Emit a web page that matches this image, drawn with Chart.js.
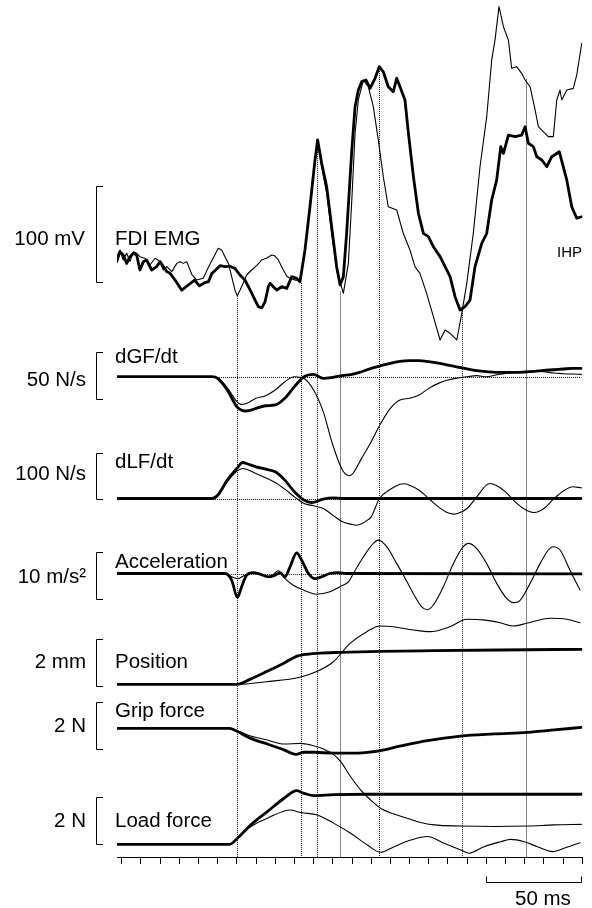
<!DOCTYPE html>
<html><head><meta charset="utf-8">
<script src="https://cdn.jsdelivr.net/npm/chart.js@4.4.1/dist/chart.umd.min.js"></script>
<style>html,body{margin:0;padding:0;background:#fff;}canvas{display:block;}</style>
</head><body>
<canvas id="c" width="592" height="908"></canvas>
<script>
// ---------------- DATA (time in ms, values in physical units, relative to pre-movement baseline) ----------------
const timeTicks = [0,10,20,30,40,50,60,70,80,90,100,110,120,130,140,150,160,170,180,190,200,210,220,230,240];

// FDI EMG (mV, relative to scale bar foot)
const emgThickT = [-2.6,-0.9,0.8,2.6,4.3,6.1,7.8,9.5,11.3,13.0,15.6,18.2,20.0,21.7,23.5,25.2,27.8,31.3,34.7,38.0,40.5,43.0,45.2,47.0,49.0,51.2,53.8,56.4,59.0,61.6,64.2,66.9,69.5,71.2,73.0,74.7,76.4,77.3,79.0,80.8,83.4,86.0,88.6,91.2,92.9,95.5,98.1,100.7,102.1,104.2,106.8,109.4,112.0,113.8,115.5,117.2,119.9,121.6,123.3,125.1,127.3,129.4,132.0,134.2,136.3,138.9,141.5,143.3,145.0,147.6,149.4,152.0,154.6,157.2,159.8,162.4,165.9,168.5,171.1,173.7,176.3,178.9,181.5,184.1,187.6,190.2,192.8,195.4,197.5,198.9,201.5,205.0,208.4,210.2,211.9,214.5,216.3,218.9,221.5,224.1,228.0,231.9,234.5,237.1,239.7];
const emgThickV = [21.2,31.6,28.1,19.4,26.4,29.9,28.1,12.5,21.2,22.9,12.5,16,21.2,16,10.8,9.0,2.1,-8.5,-3.1,2,-4.0,-1,0.3,9,12.5,17,16,16.5,14.2,7.3,2.1,-8.3,-18.8,-25.7,-27,-20.5,-4.9,-1.4,-4.9,-8.3,-4.9,-6.6,5.6,3.8,0.3,33.3,78.4,127,148,123.6,99.3,57.6,16,-3.1,5.6,50.7,137.5,182.6,200,208.7,210.4,201.7,212.2,224.3,219,203.4,198.2,212.2,203.4,189.6,154.9,109.7,71.6,50.7,47.2,36.8,26.4,16,5.6,-15.3,-29.2,-25.7,-18.8,16,40.3,50.7,85.4,106.3,141,134,153,151.4,153,161.8,144.5,141,130.5,127.1,120.1,130.5,135.7,106.3,78.4,66.4,68];
const emgThinT = [-2.6,-0.9,0.8,2.6,4.3,6.1,7.8,9.5,12.1,14.7,17.4,20.0,21.7,23.5,26.1,28.7,30.4,32.1,33.9,36.5,39.1,42.5,45.1,47.7,50.3,52.1,53.8,55.6,57.3,59.0,60.2,62.5,65.1,67.7,70.3,73.0,75.6,78.2,79.9,81.6,84.2,86.0,87.7,90.3,92.9,94.6,96.4,98.1,102.1,104.2,106.8,109.4,112.0,115.5,118.1,119.9,121.6,123.3,125.9,128.5,131.1,133.7,136.3,138.9,143.3,146.7,150.2,152.8,155.4,158.9,162.4,165.9,168.5,171.1,174.6,177.2,179.8,183.2,186.7,190.2,192.8,194.5,196.6,198.9,201.5,203.2,205.8,208.4,210.2,212.8,215.4,217.1,220.6,222.3,224.9,226.7,228.4,229.3,231.9,235.3,237.1,239.7];
const emgThinV = [26.4,33.3,22.9,29.9,21.2,31.6,29.9,26.4,24.7,17.7,24.7,21.2,12.5,16,10.8,19.4,21.2,19.4,21.2,8,2,4,15,25,35.1,33.3,26.4,19.4,5.6,-8.3,-14.5,-4.9,7.3,12.5,17,23,25,28.1,27,23,12.5,6,4,2,2.1,22.9,47.2,81.9,144.5,120.1,92.4,50.7,12.5,-11.8,19.4,85.4,154.9,189.6,210.4,203.4,182.6,148,109.7,78.4,75,50.7,33.3,16,9,-11.8,-36.1,-60.4,-50,-53.4,-60.4,-32.6,-1.4,50.7,120.1,172.2,231.3,252,286.8,265.9,252,222.6,224.3,217.4,210.4,203.4,179.2,161.8,154.9,151.4,151.4,189.6,200,189.6,200,201.7,215.6,248.6];

// dGF/dt (N/s)
const dgfThickT = [-2.4,47,50,55,60,65,70,75,80,85,90,95,100,105,110,115,120,125,130,135,140,145,150,155,160,165,170,175,180,185,190,195,200,205,210,215,220,225,230,235,239.5];
const dgfThickV = [0,0,-1.8,-14.2,-31.9,-36.5,-33.7,-30.9,-30.1,-23.0,-10.6,0,2.5,-1.8,-0.7,1.1,2.5,5.3,8.9,11.7,14.2,16.3,17.0,17.0,16.0,14.5,12.4,10.3,8.2,6.4,5.3,4.6,4.6,4.6,5.0,5.7,6.7,7.4,8.2,8.9,8.9];
const dgfThinT = [-2.4,47,50,55,60,62,65,70,75,80,85,90,95,100,105,110,115,118.5,120,125,130,135,140,145,150,155,160,165,170,175,180,185,190,195,200,205,210,215,220,225,230,235,239.5];
const dgfThinV = [0,0,-1.1,-11.7,-26.6,-29.4,-28.4,-23.0,-20.2,-14.2,-5.3,0,-1.8,-14.2,-37.2,-72.7,-99.3,-105.3,-104,-86.9,-69.1,-49.6,-33.7,-24.8,-23.0,-19.5,-12.4,-7.1,-3.5,-1.4,0,1.1,0,1.8,3.5,4.6,5.3,6.0,5.3,3.9,3.2,2.8,2.5];

// dLF/dt (N/s)
const dlfThickT = [-2.4,47,50,55,60,63,65,70,75,80,85,90,95,99,105,110,115,239.5];
const dlfThickV = [0,0,7.2,39.9,65.2,78.3,76.1,68.8,63.8,58.0,39.9,14.5,-3.6,-8.7,-1.4,1.4,0,0];
const dlfThinT = [-2.4,47,50,55,60,63,65,70,75,80,85,90,95,100,105,110,115,120,122.5,125,128,130,134.3,140,145,147,150,155,160,165,170,173,175,180,185,190,192,195,200,205,210,215,220,225,230,235,239.5];
const dlfThinV = [0,0,5.8,36.2,59.4,65.2,63.8,54.3,44.9,34.8,20.3,3.6,-10.9,-15.9,-21.7,-36.2,-50.7,-56.5,-58,-55,-47,-40,0,20,31,32,29,18.1,0,-18.1,-31.2,-34,-32.6,-21.7,3.6,29,32.6,29,14.5,-7.2,-23.2,-30.4,-21.7,-1.4,15.9,25.4,23.2];

// Acceleration (m/s^2)
const accThickT = [-2.4,53.8,57.3,60.3,62.5,65.1,68.6,72.1,76.4,79.9,82.5,85.1,87.7,91.2,93.8,97.3,100.7,104.2,108.5,112.9,117.2,239.5];
const accThickV = [0,0,-1.4,-5.1,-2.8,-0.35,0.2,-0.14,-0.7,-0.35,0.14,-0.7,1.4,4.4,2.8,0,-1.1,-0.7,0,0.2,0,-0.1];
const accThinT = [-2.4,53.8,57.3,60.3,64.2,68.6,73.8,77.3,81.6,85.1,89.4,94.6,101.6,108.5,113.7,118.1,120.7,125.9,131.1,133.7,138.1,143.3,146.8,152,156.3,159.3,162.4,167.6,172.8,178,180.6,185,190.2,195.4,200.6,204.1,207.6,212.8,218,222.3,224.9,228.4,233.6,238.8];
const accThinV = [0,0,-0.7,-1.1,-0.35,0.14,-0.35,-0.7,0.57,-1.1,-2.5,-3.5,-4.4,-3.9,-2.8,-1.8,0,3.5,6.4,7.1,5.7,2.1,-0.35,-4.3,-7.1,-7.7,-6.7,-2.8,2.1,5.7,6.4,5.3,2.1,-2.1,-5.3,-6.2,-5.7,-2.1,2.1,5.0,5.7,5.0,0.7,-3.5];

// Position (mm)
const posThickT = [-2.4,60,66.8,75.5,84.2,91.4,94.6,101.6,113.7,134.6,162.4,197.1,239.5];
const posThickV = [0,0,0.21,0.54,0.89,1.2,1.26,1.32,1.36,1.40,1.43,1.46,1.49];
const posThinT = [-2.4,60,75.5,92.9,101.6,110.3,119,127.7,134.6,141.5,152,160.7,171.1,179.8,188.5,197.1,204.1,211,223.2,231.9,238.8];
const posThinV = [0,0,0.11,0.30,0.54,0.96,1.74,2.24,2.48,2.45,2.31,2.24,2.45,2.77,2.74,2.62,2.48,2.6,2.81,2.77,2.62];

// Grip force (N, change from hold level)
const gripThickT = [-2.4,56.2,60.3,67.2,75.9,84.6,90.7,95,100.2,110.6,119.3,128,134.9,145.4,159.3,176.7,194.1,211.4,225.3,239.5];
const gripThickV = [0,0,-0.14,-0.43,-0.67,-0.92,-1.11,-1.02,-1.02,-1.06,-1.06,-1.02,-0.95,-0.75,-0.52,-0.33,-0.24,-0.17,-0.07,0.04];
const gripThinT = [-2.4,56.2,60.3,67.2,75.9,84.6,93.3,98.5,105.4,110.6,114.1,119.3,124.5,129.7,134.9,141.9,148.8,155.8,162.7,176.7,194.1,211.4,225.3,239.5];
const gripThinV = [0,0,-0.10,-0.33,-0.50,-0.67,-0.64,-0.71,-0.89,-1.13,-1.42,-2.06,-2.62,-3.05,-3.40,-3.65,-3.83,-4.01,-4.11,-4.16,-4.18,-4.16,-4.11,-4.09];

// Load force (N)
const loadThickT = [-2.4,56.2,60.3,67.2,75.9,84.6,91.2,95,100.2,110.6,128,239.5];
const loadThickV = [0,0,0.26,0.82,1.39,1.96,2.28,2.17,2.07,2.11,2.13,2.13];
const loadThinT = [-2.4,56.2,60.3,67.2,75.9,87.9,93.3,102,110.6,119.3,128,134.9,141.9,150.6,159.3,168,176.7,181,188.8,197.5,202.7,209.7,216.6,224.4,230.5,238.8];
const loadThinV = [0,0,0.26,0.75,1.11,1.46,1.35,1.25,0.89,0.47,-0.03,-0.34,-0.10,0.18,0.33,0.04,-0.24,-0.38,-0.10,0.11,0.21,0.11,-0.10,-0.31,-0.17,0.07];

// Event markers (ms) and EMG level where each dotted line starts
const eventTimes = [60.2,93.4,101.9,113.8,133.9,177.2,210.7];
const eventTopEmg = [-14.5,-1,146,-10,224,-30,211];

// ---------------- LAYOUT ----------------
const AREA_H = 857;           // chart area height (top at 0)
const traces = {
  yEMG:  {base: 282,   k: 0.96},
  yDGF:  {base: 376.7, k: 0.94},
  yDLF:  {base: 498.5, k: 0.46},
  yACC:  {base: 573.5, k: 4.7},
  yPOS:  {base: 684.3, k: 23.5},
  yGRIP: {base: 728.3, k: 23.5},
  yLOAD: {base: 844.3, k: 23.5}
};
const yScales = {};
for (const id in traces) {
  const t = traces[id];
  yScales[id] = {type:'linear', display:false, min:(t.base-AREA_H)/t.k, max:t.base/t.k};
}

function pts(T, V){ return T.map((t,i)=>({x:t, y:V[i]})); }
const THICK = 2.8, THIN = 1.1;
function ds(T, V, axis, thick, smooth){
  return {data: pts(T,V), yAxisID: axis, borderColor:'#000', borderWidth: thick?THICK:THIN,
    pointRadius:0, fill:false, tension: smooth?0.4:0, cubicInterpolationMode: smooth?'monotone':'default',
    borderJoinStyle:'round', borderCapStyle:'round'};
}

const FONT = '20.5px "Liberation Sans", Arial, Helvetica, sans-serif';

const decor = {
  id:'decor',
  beforeDatasetsDraw(chart){
    const ctx = chart.ctx, xs = chart.scales.x, ca = chart.chartArea;
    ctx.save();
    ctx.strokeStyle = '#111'; ctx.lineWidth = 1; ctx.setLineDash([1,1]);
    // horizontal zero lines
    const hl = [['yDGF',47.6],['yDLF',47.6],['yACC',56]];
    hl.forEach(([id,t0])=>{
      const y = Math.round(chart.scales[id].getPixelForValue(0))+0.5;
      ctx.beginPath(); ctx.moveTo(xs.getPixelForValue(t0), y); ctx.lineTo(xs.getPixelForValue(239.5), y); ctx.stroke();
    });
    // vertical event lines
    eventTimes.forEach((t,i)=>{
      const x = Math.round(xs.getPixelForValue(t))+0.5;
      const top = chart.scales.yEMG.getPixelForValue(eventTopEmg[i]);
      ctx.beginPath(); ctx.moveTo(x, top); ctx.lineTo(x, ca.bottom); ctx.stroke();
    });
    ctx.restore();
  },
  afterDraw(chart){
    const ctx = chart.ctx, xs = chart.scales.x;
    ctx.save();
    ctx.strokeStyle = '#000'; ctx.lineWidth = 1; ctx.setLineDash([]);
    // scale bars
    const bars = [['yEMG',0,100],['yDGF',-23.7,26.3],['yDLF',0,99],['yACC',-5.4,4.6],['yPOS',-0.07,1.93],['yGRIP',-0.88,1.13],['yLOAD',0,2]];
    bars.forEach(([id,a,b])=>{
      const s = chart.scales[id];
      const y1 = Math.round(s.getPixelForValue(a))+0.5, y2 = Math.round(s.getPixelForValue(b))+0.5;
      ctx.beginPath();
      ctx.moveTo(103, y2); ctx.lineTo(96.5, y2); ctx.lineTo(96.5, y1); ctx.lineTo(103, y1);
      ctx.stroke();
    });
    // 50 ms bar
    const bx1 = Math.round(xs.getPixelForValue(190))+0.5, bx2 = Math.round(xs.getPixelForValue(240))-0.5;
    ctx.beginPath();
    ctx.moveTo(bx1, 876.5); ctx.lineTo(bx1, 882.5); ctx.lineTo(bx2, 882.5); ctx.lineTo(bx2, 876.5);
    ctx.stroke();
    // texts
    ctx.fillStyle = '#000';
    ctx.font = FONT;
    ctx.textBaseline = 'alphabetic';
    const right = [['100 mV',85,245],['50 N/s',86,386],['100 N/s',86,480],['10 m/s\u00B2',86,583],['2 mm',86,668],['2 N',86,732],['2 N',86,827]];
    ctx.textAlign = 'right';
    right.forEach(([s,x,y])=>ctx.fillText(s,x,y));
    const left = [['FDI EMG',115,245],['dGF/dt',115,363],['dLF/dt',115,468],['Acceleration',115,568],['Position',115,668],['Grip force',115,717],['Load force',115,827],['50 ms',515,905]];
    ctx.textAlign = 'left';
    left.forEach(([s,x,y])=>ctx.fillText(s,x,y));
    ctx.font = '15px "Liberation Sans", Arial, sans-serif';
    ctx.fillText('IHP', 557, 257);
    ctx.restore();
  }
};

const scales = Object.assign({
  x: {type:'linear', position:'bottom', min:-2.45, max:240,
      grid:{display:true, drawOnChartArea:false, drawTicks:true, tickLength:7, color:'#000', lineWidth:1},
      border:{display:true, color:'#000', width:1},
      ticks:{display:false},
      afterBuildTicks: s => { s.ticks = timeTicks.map(v=>({value:v})); }}
}, yScales);

new Chart(document.getElementById('c'), {
  type:'line',
  data:{datasets:[
    ds(emgThinT, emgThinV, 'yEMG', false, false),
    ds(emgThickT, emgThickV, 'yEMG', true, false),
    ds(dgfThinT, dgfThinV, 'yDGF', false, true),
    ds(dgfThickT, dgfThickV, 'yDGF', true, true),
    ds(dlfThinT, dlfThinV, 'yDLF', false, true),
    ds(dlfThickT, dlfThickV, 'yDLF', true, true),
    ds(accThinT, accThinV, 'yACC', false, true),
    ds(accThickT, accThickV, 'yACC', true, true),
    ds(posThinT, posThinV, 'yPOS', false, true),
    ds(posThickT, posThickV, 'yPOS', true, true),
    ds(gripThinT, gripThinV, 'yGRIP', false, true),
    ds(gripThickT, gripThickV, 'yGRIP', true, true),
    ds(loadThinT, loadThinV, 'yLOAD', false, true),
    ds(loadThickT, loadThickV, 'yLOAD', true, true)
  ]},
  options:{
    responsive:false, animation:false, devicePixelRatio:1,
    layout:{padding:{left:117, right:9.7, top:0, bottom:44}},
    plugins:{legend:{display:false}, tooltip:{enabled:false}, title:{display:false}},
    events:[],
    scales
  },
  plugins:[decor]
});
</script>
</body></html>
